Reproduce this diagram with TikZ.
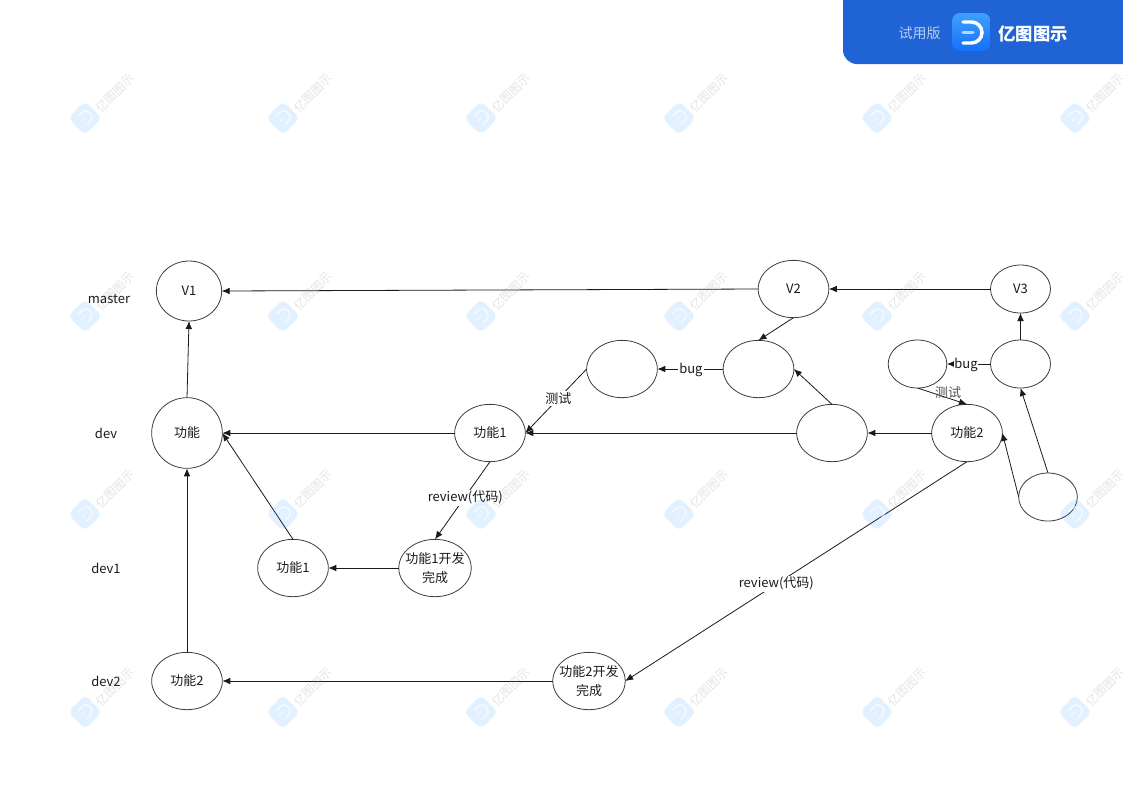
\documentclass[tikz,border=0pt]{standalone}
\usepackage{fontspec}
\setmainfont{Noto Sans CJK SC}
\usetikzlibrary{arrows.meta,shapes.geometric,calc}
\definecolor{hdrblue}{HTML}{1F63D5}
\definecolor{logoA}{HTML}{3FA0FF}
\definecolor{logoB}{HTML}{1470FA}
\definecolor{wmblue}{HTML}{1E90FF}
\definecolor{ink}{HTML}{1A1A1A}
\newcommand{\rb}[1]{\raisebox{-1.5pt}{#1}}
\tikzset{
  x=0.75pt,y=-0.75pt,
  every node/.style={font=\fontsize{9.75pt}{14pt}\selectfont,text=ink},
  oval/.style={draw=ink!85,line width=0.6pt,ellipse,inner sep=-3pt,outer sep=0pt,align=center},
  conn/.style={draw=ink,line width=0.6pt,-{Latex[length=6pt,width=5pt]}},
  lbl/.style={fill=white,inner sep=1pt},
  rowlbl/.style={inner sep=0pt},
  wmtext/.style={font=\fontsize{9pt}{9pt}\selectfont,text=black!45,opacity=0.24,rotate=45,inner sep=0pt},
}
\begin{document}
\begin{tikzpicture}
\useasboundingbox (0,0) rectangle (1123,794);
% header band
\fill[hdrblue] (843,0) -- (1123,0) -- (1123,64) -- (857,64) arc[start angle=90,end angle=180,radius=14] -- cycle;
\node[font=\fontsize{10.5pt}{12pt}\selectfont,text=white,text opacity=0.68,inner sep=0pt] (trial) at (919.5,33) {试用版};
\shade[top color=logoA,bottom color=logoB,rounded corners=6pt] (952,13) rectangle (990.5,51);
\draw[white,line width=2.6pt,line cap=round] (963,22) -- (971.5,22) arc[start angle=-90,end angle=90,radius=10.5] -- (963,43);
\draw[white,opacity=0.65,line width=2.6pt,line cap=round] (963,32.5) -- (973,32.5);
\node[font=\fontsize{13pt}{14pt}\selectfont\bfseries,text=white,inner sep=0pt] (brand) at (1033,33.5) {亿图图示};
% row labels
\node[rowlbl] (rmaster) at (109,299) {master};
\node[rowlbl] (rdev) at (106,433) {dev};
\node[rowlbl] (rdevone) at (106,568) {dev1};
\node[rowlbl] (rdevtwo) at (106,681) {dev2};
% nodes
\node[oval,minimum width=49pt,minimum height=45pt] (v1) at (189,291) {\rb{V1}};
\node[oval,minimum width=53pt,minimum height=43pt] (v2) at (793.5,289) {\rb{V2}};
\node[oval,minimum width=45pt,minimum height=36pt] (v3) at (1020.5,289) {\rb{V3}};
\node[oval,minimum width=53pt,minimum height=43pt] (a) at (758.5,369) {};
\node[oval,minimum width=53pt,minimum height=43pt] (b) at (622,369) {};
\node[oval,minimum width=44pt,minimum height=36pt] (c) at (917.5,364) {};
\node[oval,minimum width=45pt,minimum height=36pt] (d) at (1020.5,364) {};
\node[oval,minimum width=53pt,minimum height=53pt] (gn) at (187,433) {\rb{功能}};
\node[oval,minimum width=53pt,minimum height=43pt] (fa) at (490,433) {\rb{功能1}};
\node[oval,minimum width=53pt,minimum height=43pt] (e) at (832,433) {};
\node[oval,minimum width=53pt,minimum height=43pt] (fb) at (967,433) {\rb{功能2}};
\node[oval,minimum width=44pt,minimum height=36pt] (f) at (1048,497) {};
\node[oval,minimum width=53pt,minimum height=43pt] (faone) at (293,568) {\rb{功能1}};
\node[oval,minimum width=53pt,minimum height=43pt] (fadone) at (435,568) {\rb{功能1开发}\\\rb{完成}};
\node[oval,minimum width=53pt,minimum height=43pt] (fbtwo) at (187,681) {\rb{功能2}};
\node[oval,minimum width=53pt,minimum height=43pt] (fbdone) at (589,681) {\rb{功能2开发}\\\rb{完成}};
% connectors
\draw[conn] (v2.west) -- (v1.east);
\draw[conn] (v3.west) -- (v2.east);
\draw[conn] (gn.north) -- (v1.south);
\draw[conn] (d.north) -- (v3.south);
\draw[conn] (fa.west) -- (gn.east);
\draw[conn] (e.west) -- (fa.east);
\draw[conn] (fb.west) -- (e.east);
\draw[conn] (e.north) -- (a.east);
\draw[conn] (v2.south) -- (a.north);
\draw[conn] (a.west) -- node[lbl,pos=0.49,yshift=-0.75pt] (lbuga) {bug} (b.east);
\draw[conn] (b.west) -- node[lbl,pos=0.46] (ltesta) {测试} (fa.east);
\draw[conn] (d.west) -- (c.east);
\node[lbl,inner sep=0.5pt] (lbugb) at (966,364.5) {bug};
\draw[conn] (c.south) -- (fb.north);
\node[inner sep=0pt,text=ink!75] (ltestb) at (948,393) {测试};
\draw[conn] (f.north) -- (d.south);
\draw[conn] (f.west) -- (fb.east);
\draw[conn] (fb.south) -- node[lbl,pos=0.556,xshift=-0.5pt] (lrevb) {review(代码)} (fbdone.east);
\draw[conn] (fa.south) -- node[lbl,pos=0.45,yshift=-0.75pt] (lreva) {review(代码)} (fadone.north);
\draw[conn] (fadone.west) -- (faone.east);
\draw[conn] (faone.north) -- (gn.east);
\draw[conn] (fbdone.west) -- (fbtwo.east);
\draw[conn] (fbtwo.north) -- (gn.south);
% watermark
\foreach \wx in {85,283,481,679,877,1075}{
  \foreach \wy in {118,316,514,712}{
    \begin{scope}[shift={(\wx,\wy)}]
      \fill[wmblue,opacity=0.13,rounded corners=4pt] (-17,0) -- (0,-17) -- (17,0) -- (0,17) -- cycle;
      \draw[white,opacity=0.6,line width=1.3pt,line cap=round] (-6.24,-2.24) -- (-3.24,-5.24) arc[start angle=225,end angle=405,radius=6] -- (2.24,6.24);
      \draw[white,opacity=0.4,line width=1.3pt,line cap=round] (-3,3) -- (0,0);
    \end{scope}
    \node[wmtext] at ($(\wx,\wy)+(30,-25)$) {亿图图示};
  }
}
\end{tikzpicture}
\end{document}
